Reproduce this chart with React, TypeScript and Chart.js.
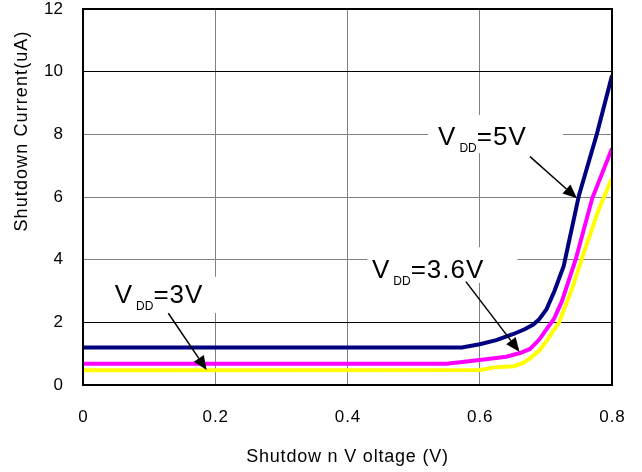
import React, { useEffect, useRef } from 'react';
import Chart from 'chart.js/auto';

// ---- data ----
const xTickValues = [0, 0.2, 0.4, 0.6, 0.8];
const xTickLabels = ['0', '0.2', '0.4', '0.6', '0.8'];
const yTickValues = [0, 2, 4, 6, 8, 10, 12];
const yTickLabels = ['0', '2', '4', '6', '8', '10', '12'];

const vdd5X = [0, 0.573, 0.6, 0.625, 0.65, 0.668, 0.681, 0.69, 0.701, 0.713, 0.727, 0.75, 0.777, 0.8];
const vdd5Y = [1.2, 1.2, 1.3, 1.43, 1.62, 1.78, 1.93, 2.1, 2.42, 3.0, 3.8, 6.05, 8.0, 9.88];

const vdd36X = [0, 0.55, 0.6, 0.64, 0.661, 0.676, 0.69, 0.7, 0.712, 0.724, 0.745, 0.77, 0.8];
const vdd36Y = [0.68, 0.68, 0.8, 0.9, 1.02, 1.15, 1.45, 1.75, 2.1, 2.66, 4.0, 5.95, 7.55];

const vdd3X = [0, 0.6, 0.625, 0.651, 0.665, 0.676, 0.69, 0.701, 0.72, 0.74, 0.757, 0.78, 0.8];
const vdd3Y = [0.47, 0.48, 0.57, 0.6, 0.7, 0.85, 1.1, 1.4, 2.0, 3.1, 4.2, 5.6, 6.6];

const xTitle = 'Shutdow n V oltage (V)';
const yTitle = 'Shutdown Current(uA)';

// annotation labels (data coordinates)
const labels = [
  { main: 'V', sub: 'DD', rest: '=5V', tx: 0.537, ty: 7.66, box: [0.522, 8.62, 0.726, 7.4], from: [0.676, 7.29], to: [0.747, 5.96] },
  { main: 'V', sub: 'DD', rest: '=3.6V', tx: 0.437, ty: 3.41, box: [0.43, 4.4, 0.657, 3.26], from: [0.579, 3.3], to: [0.66, 1.06] },
  { main: 'V', sub: 'DD', rest: '=3V', tx: 0.048, ty: 2.61, box: [0.033, 3.45, 0.215, 2.3], from: [0.129, 2.29], to: [0.187, 0.48] },
];

const FONT = '"Liberation Sans", Arial, sans-serif';
const AREA = { left: 83, top: 9, right: 612, bottom: 385 };

function pts(xs: number[], ys: number[]) {
  return xs.map((x, i) => ({ x, y: ys[i] }));
}

function setSpacing(ctx: any, v: string) {
  try { ctx.letterSpacing = v; } catch (e) { /* unsupported */ }
}

const framePlugin = {
  id: 'frameAndLabels',
  afterLayout(chart: any) {
    const a = chart.chartArea;
    a.left = AREA.left; a.top = AREA.top; a.right = AREA.right; a.bottom = AREA.bottom;
    a.width = AREA.right - AREA.left; a.height = AREA.bottom - AREA.top;
    const x = chart.scales.x;
    x.left = AREA.left; x.right = AREA.right; x.width = AREA.right - AREA.left;
    x.top = AREA.bottom; x.bottom = chart.height; x.height = chart.height - AREA.bottom;
    x.configure();
    const y = chart.scales.y;
    y.top = AREA.top; y.bottom = AREA.bottom; y.height = AREA.bottom - AREA.top;
    y.left = 0; y.right = AREA.left; y.width = AREA.left;
    y.configure();
  },
  beforeDatasetsDraw(chart: any) {
    const { ctx, scales } = chart;
    const xs = scales.x, ys = scales.y;
    ctx.save();
    ctx.fillStyle = '#ffffff';
    for (const l of labels) {
      const x1 = xs.getPixelForValue(l.box[0]);
      const y1 = ys.getPixelForValue(l.box[1]);
      const x2 = xs.getPixelForValue(l.box[2]);
      const y2 = ys.getPixelForValue(l.box[3]);
      ctx.fillRect(x1, y1, x2 - x1, y2 - y1);
    }
    ctx.restore();
  },
  afterDatasetsDraw(chart: any) {
    const { ctx, chartArea, scales } = chart;
    const xs = scales.x, ys = scales.y;
    ctx.save();
    // frame
    ctx.strokeStyle = '#000000';
    ctx.lineWidth = 2;
    ctx.strokeRect(chartArea.left, chartArea.top, chartArea.right - chartArea.left, chartArea.bottom - chartArea.top);

    // annotation text + arrows
    ctx.fillStyle = '#000000';
    ctx.textBaseline = 'alphabetic';
    ctx.textAlign = 'left';
    for (const l of labels) {
      let x = xs.getPixelForValue(l.tx);
      const y = ys.getPixelForValue(l.ty);
      setSpacing(ctx, '0px');
      ctx.font = `26px ${FONT}`;
      ctx.fillText(l.main, x, y);
      x += ctx.measureText(l.main).width + 4;
      ctx.font = `12px ${FONT}`;
      ctx.fillText(l.sub, x, y + 7);
      x += ctx.measureText(l.sub).width;
      ctx.font = `26px ${FONT}`;
      setSpacing(ctx, '1px');
      ctx.fillText(l.rest, x, y);
      setSpacing(ctx, '0px');

      const fx = xs.getPixelForValue(l.from[0]);
      const fy = ys.getPixelForValue(l.from[1]);
      const tx = xs.getPixelForValue(l.to[0]);
      const ty = ys.getPixelForValue(l.to[1]);
      const ang = Math.atan2(ty - fy, tx - fx);
      const headLen = 14, headW = 6;
      const bx = tx - headLen * Math.cos(ang);
      const by = ty - headLen * Math.sin(ang);
      ctx.strokeStyle = '#000000';
      ctx.lineWidth = 1.5;
      ctx.beginPath();
      ctx.moveTo(fx, fy);
      ctx.lineTo(bx, by);
      ctx.stroke();
      ctx.beginPath();
      ctx.moveTo(tx, ty);
      ctx.lineTo(bx + headW * Math.sin(ang), by - headW * Math.cos(ang));
      ctx.lineTo(bx - headW * Math.sin(ang), by + headW * Math.cos(ang));
      ctx.closePath();
      ctx.fill();
    }

    // x tick labels
    ctx.textAlign = 'center';
    ctx.textBaseline = 'middle';
    ctx.font = `17px ${FONT}`;
    setSpacing(ctx, '1px');
    xTickValues.forEach((v, i) => {
      ctx.fillText(xTickLabels[i], xs.getPixelForValue(v) + 0.5, 417);
    });

    // axis titles
    ctx.font = `18px ${FONT}`;
    setSpacing(ctx, '0.8px');
    ctx.fillText(xTitle, (chartArea.left + chartArea.right) / 2, 457);
    setSpacing(ctx, '1.1px');
    ctx.translate(22, 131);
    ctx.rotate(-Math.PI / 2);
    ctx.fillText(yTitle, 0, 0);
    setSpacing(ctx, '0px');
    ctx.restore();
  },
};

export default function App() {
  const ref = useRef<HTMLCanvasElement | null>(null);
  useEffect(() => {
    if (!ref.current) return;
    const chart = new Chart(ref.current, {
      type: 'line',
      data: {
        datasets: [
          { label: 'VDD=5V', data: pts(vdd5X, vdd5Y), borderColor: '#000080', borderWidth: 4, pointRadius: 0, tension: 0, fill: false },
          { label: 'VDD=3.6V', data: pts(vdd36X, vdd36Y), borderColor: '#ff00ff', borderWidth: 4, pointRadius: 0, tension: 0, fill: false },
          { label: 'VDD=3V', data: pts(vdd3X, vdd3Y), borderColor: '#ffff00', borderWidth: 4, pointRadius: 0, tension: 0, fill: false },
        ],
      },
      options: {
        animation: false,
        responsive: false,
        maintainAspectRatio: false,
        layout: { padding: { left: 0, top: 9, right: 30, bottom: 0 } },
        plugins: { legend: { display: false }, tooltip: { enabled: false }, title: { display: false } },
        scales: {
          x: {
            type: 'linear',
            min: 0,
            max: 0.8,
            afterBuildTicks: (s: any) => { s.ticks = xTickValues.map((v) => ({ value: v })); },
            ticks: { display: false },
            grid: { color: '#808080', lineWidth: 1, drawTicks: false },
            border: { display: false },
          },
          y: {
            type: 'linear',
            min: 0,
            max: 12,
            afterBuildTicks: (s: any) => { s.ticks = yTickValues.map((v) => ({ value: v })); },
            ticks: {
              padding: 20,
              color: '#000',
              font: { family: FONT, size: 17 },
              callback: (v: any) => { const i = yTickValues.indexOf(v); return i >= 0 ? yTickLabels[i] : ''; },
            },
            grid: {
              color: (c: any) => (c.tick && (c.tick.value === 10 || c.tick.value === 2) ? '#000000' : '#808080'),
              lineWidth: 1,
              drawTicks: false,
            },
            border: { display: false },
          },
        },
      },
      plugins: [framePlugin],
    });
    return () => chart.destroy();
  }, []);
  return (
    <div style={{ position: 'fixed', left: 0, top: 0, width: 642, height: 472, background: '#fff' }}>
      <canvas ref={ref} width={642} height={472} style={{ width: 642, height: 472, display: 'block' }} />
    </div>
  );
}
